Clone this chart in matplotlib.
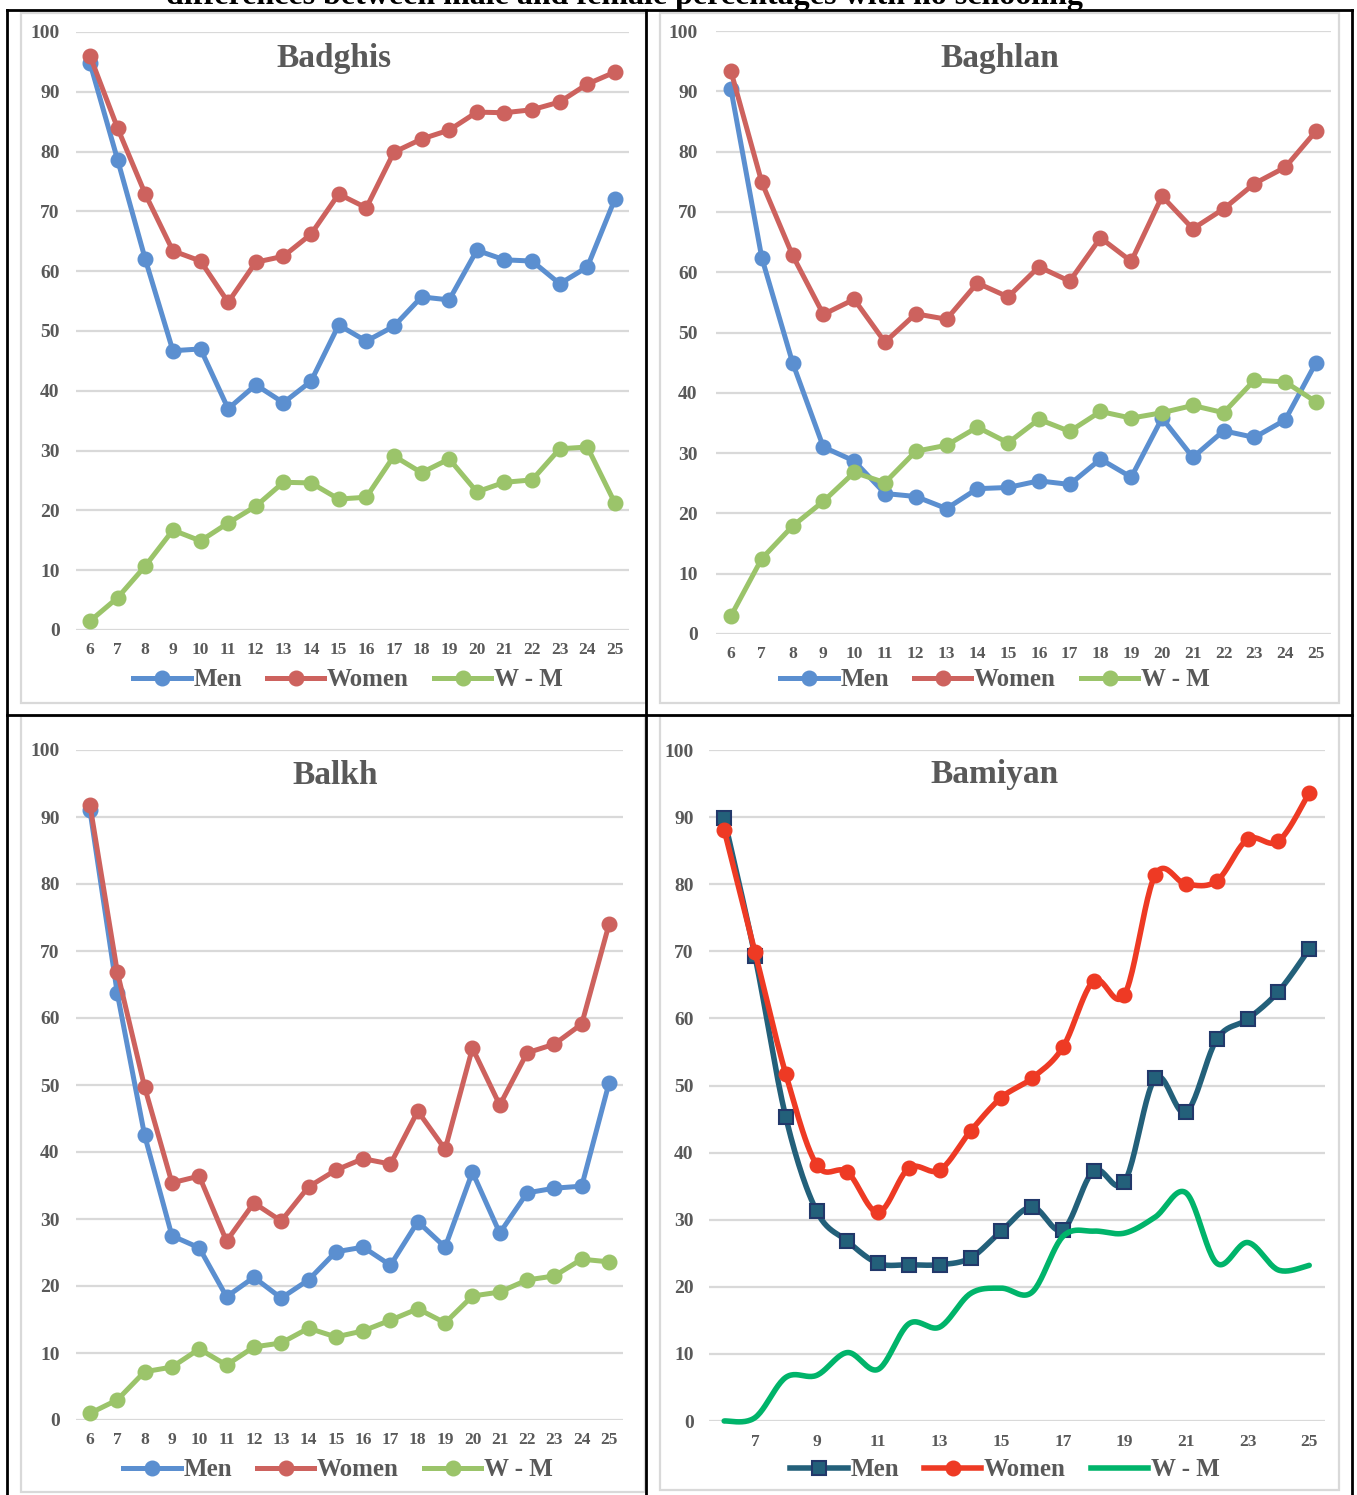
import numpy as np
import matplotlib.pyplot as plt
from matplotlib.lines import Line2D
from matplotlib.patches import Rectangle

W, H = 1357, 1495
ages = list(range(6, 26))

badghis_men = [94.8, 78.6, 62.0, 46.7, 47.0, 37.0, 41.0, 38.0, 41.6, 51.0,
               48.3, 50.8, 55.7, 55.2, 63.5, 61.9, 61.7, 57.9, 60.7, 72.1]
badghis_women = [96.0, 83.9, 72.9, 63.4, 61.7, 54.8, 61.5, 62.5, 66.2, 72.9,
                 70.6, 79.9, 82.1, 83.6, 86.6, 86.5, 87.0, 88.3, 91.3, 93.3]
badghis_diff = [1.5, 5.4, 10.7, 16.7, 14.9, 17.9, 20.7, 24.7, 24.6, 21.9,
                22.2, 29.1, 26.3, 28.6, 23.1, 24.7, 25.1, 30.3, 30.6, 21.2]

baghlan_men = [90.3, 62.4, 45.0, 31.0, 28.7, 23.3, 22.8, 20.8, 24.1, 24.3,
               25.4, 24.8, 29.0, 26.0, 35.8, 29.3, 33.7, 32.6, 35.5, 45.0]
baghlan_women = [93.3, 74.9, 62.8, 53.0, 55.5, 48.4, 53.1, 52.2, 58.2, 55.9,
                 60.9, 58.5, 65.7, 61.8, 72.6, 67.2, 70.5, 74.7, 77.4, 83.4]
baghlan_diff = [3.0, 12.5, 17.9, 22.0, 26.8, 25.1, 30.3, 31.3, 34.3, 31.7,
                35.6, 33.6, 36.9, 35.8, 36.7, 37.9, 36.7, 42.1, 41.8, 38.5]

balkh_men = [91.0, 63.7, 42.5, 27.5, 25.7, 18.4, 21.3, 18.2, 20.9, 25.1,
             25.8, 23.1, 29.6, 25.8, 37.0, 27.9, 33.9, 34.6, 34.9, 50.3]
balkh_women = [91.8, 66.9, 49.7, 35.4, 36.4, 26.7, 32.4, 29.7, 34.8, 37.3,
               39.0, 38.2, 46.1, 40.4, 55.5, 47.0, 54.8, 56.1, 59.1, 74.0]
balkh_diff = [1.0, 3.0, 7.2, 7.9, 10.6, 8.2, 10.9, 11.5, 13.7, 12.4,
              13.3, 14.9, 16.6, 14.5, 18.5, 19.1, 20.9, 21.5, 24.0, 23.6]

bamiyan_men = [89.8, 69.3, 45.3, 31.3, 26.8, 23.5, 23.3, 23.3, 24.3, 28.3,
               31.9, 28.5, 37.3, 35.6, 51.1, 46.0, 56.9, 59.9, 64.0, 70.3]
bamiyan_women = [88.1, 69.9, 51.7, 38.2, 37.1, 31.1, 37.7, 37.4, 43.2, 48.2,
                 51.1, 55.7, 65.6, 63.5, 81.4, 80.0, 80.5, 86.7, 86.4, 93.6]
bamiyan_diff = [0.0, 0.5, 6.5, 6.8, 10.2, 7.7, 14.5, 14.0, 19.0, 19.8,
                19.2, 27.5, 28.3, 28.0, 30.4, 34.0, 23.5, 26.6, 22.5, 23.2]

FONT = 'Liberation Serif'
GREY = '#595959'
GRID = '#D9D9D9'
BLUE, RED, GREEN = '#5B8FD0', '#CD625E', '#9BC46A'
TEAL, NAVY, RED2, GREEN2 = '#23607A', '#22386A', '#EE3A24', '#00B46A'

fig = plt.figure(figsize=(W / 100, H / 100), dpi=100)


def fx(px):
    return px / W


def fy(py):
    return 1 - py / H


def smooth(x, y, n=24):
    # Bezier smoothing through the data points (like Excel's smoothed line)
    x = np.asarray(x, float)
    y = np.asarray(y, float)
    px = np.concatenate([[x[0]], x, [x[-1]]])
    py = np.concatenate([[y[0]], y, [y[-1]]])
    t = np.linspace(0, 1, n, endpoint=False)[:, None]
    out = []
    for i in range(len(x) - 1):
        p0 = np.array([px[i], py[i]])
        p1 = np.array([px[i + 1], py[i + 1]])
        p2 = np.array([px[i + 2], py[i + 2]])
        p3 = np.array([px[i + 3], py[i + 3]])
        c1 = p1 + (p2 - p0) / 6
        c2 = p2 - (p3 - p1) / 6
        seg = ((1 - t) ** 3) * p1 + 3 * ((1 - t) ** 2) * t * c1 + 3 * (1 - t) * t ** 2 * c2 + t ** 3 * p2
        out.append(seg)
    out.append(np.array([[x[-1], y[-1]]]))
    out = np.vstack(out)
    return out[:, 0], out[:, 1]


def panel(box, x0, x1, y0, y100, title, title_xy, ypad, step=1):
    bx0, by0, bx1, by1 = box
    fig.patches.append(Rectangle((fx(bx0), fy(by1)), (bx1 - bx0) / W, (by1 - by0) / H,
                                 transform=fig.transFigure, fill=False,
                                 edgecolor=GRID, lw=1.6, zorder=0))
    ax = fig.add_axes([fx(x0), fy(y0), (x1 - x0) / W, (y0 - y100) / H])
    ax.set_xlim(5.5, 25.5)
    ax.set_ylim(0, 100)
    ax.set_yticks(range(0, 101, 10))
    ax.set_xticks(ages[::step] if step == 1 else ages[1::step])
    for s in ax.spines.values():
        s.set_visible(False)
    ax.grid(axis='y', color=GRID, lw=1.6)
    ax.set_axisbelow(True)
    ax.tick_params(length=0, colors=GREY)
    ax.tick_params(axis='y', pad=ypad, labelsize=14)
    ax.tick_params(axis='x', pad=9, labelsize=12.5)
    for lab in ax.get_xticklabels() + ax.get_yticklabels():
        lab.set_fontfamily(FONT)
        lab.set_fontweight('bold')
    fig.text(fx(title_xy[0]), fy(title_xy[1]), title, ha='center', va='center',
             fontsize=24, fontweight='bold', family=FONT, color=GREY)
    return ax


def simple(ax, men, women, diff, legend_xy):
    kw = dict(lw=3.6, marker='o', ms=10.5, clip_on=False, solid_capstyle='round')
    ax.plot(ages, men, color=BLUE, mec=BLUE, **kw)
    ax.plot(ages, women, color=RED, mec=RED, **kw)
    ax.plot(ages, diff, color=GREEN, mec=GREEN, **kw)
    handles = [Line2D([], [], color=c, lw=3.6, marker='o', ms=10.5) for c in (BLUE, RED, GREEN)]
    fig.legend(handles, ['Men', 'Women', 'W - M'], loc='center',
               bbox_to_anchor=(fx(legend_xy[0]), fy(legend_xy[1])), ncol=3, frameon=False,
               prop={'family': FONT, 'weight': 'bold', 'size': 18},
               labelcolor=GREY, handlelength=2.3, handletextpad=0.1, columnspacing=1.0)


ax1 = panel((21, 13, 646, 703), 76.2, 628.8, 630, 32, 'Badghis', (334, 58), 12)
simple(ax1, badghis_men, badghis_women, badghis_diff, (348, 680))

ax2 = panel((660, 13, 1339, 703), 715.6, 1331.4, 634, 31, 'Baghlan', (1000, 58), 13)
simple(ax2, baghlan_men, baghlan_women, baghlan_diff, (995, 680))

ax3 = panel((21, 716, 645, 1492), 76.3, 622.7, 1420, 750, 'Balkh', (335, 775), 12)
simple(ax3, balkh_men, balkh_women, balkh_diff, (338, 1470))

ax4 = panel((660, 716, 1339, 1490), 708.8, 1324.6, 1421, 750, 'Bamiyan', (995, 775), 11, step=2)
sx, sy = smooth(ages, bamiyan_men)
ax4.plot(sx, sy, color=TEAL, lw=4, clip_on=False, solid_capstyle='round')
ax4.plot(ages, bamiyan_men, ls='none', marker='s', ms=10.5, color=TEAL, mec=NAVY, mew=1.5, clip_on=False)
sx, sy = smooth(ages, bamiyan_women)
ax4.plot(sx, sy, color=RED2, lw=4, clip_on=False, solid_capstyle='round')
ax4.plot(ages, bamiyan_women, ls='none', marker='o', ms=10.5, color=RED2, mec=RED2, clip_on=False)
sx, sy = smooth(ages, bamiyan_diff)
ax4.plot(sx, sy, color=GREEN2, lw=4, clip_on=False, solid_capstyle='round')
handles = [Line2D([], [], color=TEAL, lw=4, marker='s', ms=10.5, mfc=TEAL, mec=NAVY, mew=1.5),
           Line2D([], [], color=RED2, lw=4, marker='o', ms=10.5),
           Line2D([], [], color=GREEN2, lw=4)]
fig.legend(handles, ['Men', 'Women', 'W - M'], loc='center',
           bbox_to_anchor=(fx(1005), fy(1470)), ncol=3, frameon=False,
           prop={'family': FONT, 'weight': 'bold', 'size': 18},
           labelcolor=GREY, handlelength=2.3, handletextpad=0.1, columnspacing=1.0)

# table borders around the four charts
for xs, ys in [((7, 1352), (10, 10)), ((7, 1352), (715, 715)), ((7, 7), (10, 1495)),
               ((1352, 1352), (10, 1495)), ((646, 646), (10, 1495))]:
    fig.add_artist(Line2D([fx(xs[0]), fx(xs[1])], [fy(ys[0]), fy(ys[1])],
                          color='black', lw=2, transform=fig.transFigure))

# caption above the table, cut off at the top edge as in the source page
fig.text(fx(624), fy(4), 'differences between male and female percentages with no schooling',
         ha='center', va='baseline', fontsize=23, fontweight='bold', family=FONT, color='black')

fig.savefig('out.png', dpi=100)
